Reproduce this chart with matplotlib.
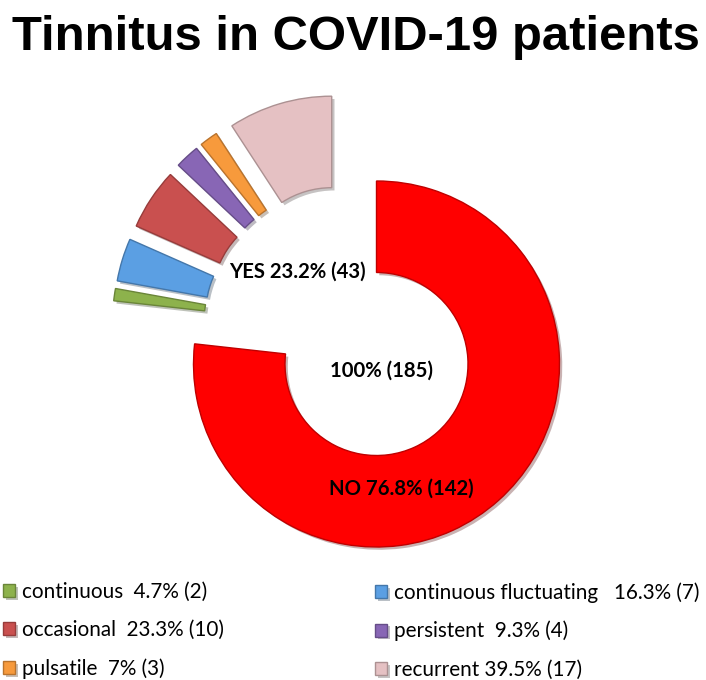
import matplotlib
matplotlib.use('Agg')
import matplotlib.pyplot as plt
from matplotlib import patheffects as pe
from matplotlib.colors import to_rgb

# ---- data ----
categories = ['NO', 'continuous', 'continuous fluctuating', 'occasional',
              'persistent', 'pulsatile', 'recurrent']
counts = [142, 2, 7, 10, 4, 3, 17]
colors = ['#FF0000', '#8DB24C', '#5B9FE3', '#C9504F', '#8866B5', '#F79A3C', '#E5C1C3']
legend_labels = ['continuous  4.7% (2)', 'continuous fluctuating   16.3% (7)',
                 'occasional  23.3% (10)', 'persistent  9.3% (4)',
                 'pulsatile  7% (3)', 'recurrent 39.5% (17)']
yes_label = 'YES 23.2% (43)'
no_label = 'NO 76.8% (142)'
total_label = '100% (185)'
title = 'Tinnitus in COVID-19 patients'

W, H = 706, 680
cx_px, cy_px, R_px = 376.5, 364.0, 183.0

fig = plt.figure(figsize=(W / 100, H / 100), dpi=100)
ax = fig.add_axes([0, 0, 1, 1])

explode = [0.0] + [0.28] * 6
wedges, _ = ax.pie(counts, explode=explode, colors=colors, startangle=90,
                   counterclock=False, radius=1.0,
                   wedgeprops=dict(width=0.5, linewidth=1.0))

def darker(c, f=0.75):
    r, g, b = to_rgb(c)
    return (r * f, g * f, b * f)

shift = (-0.165, 0.195)
for i, w in enumerate(wedges):
    w.set_edgecolor(darker(colors[i]))
    w.set_path_effects([pe.SimplePatchShadow(offset=(2, -2), alpha=0.3), pe.Normal()])
    if i > 0:
        c = w.center
        w.set_center((c[0] + shift[0], c[1] + shift[1]))

ax.set_xlim(-cx_px / R_px, (W - cx_px) / R_px)
ax.set_ylim(-(H - cy_px) / R_px, cy_px / R_px)
ax.set_aspect('auto')
ax.axis('off')

def to_data(px, py):
    return (px - cx_px) / R_px, (cy_px - py) / R_px

lab_font = dict(fontsize=14.6, fontweight='bold', family=['Lato', 'DejaVu Sans'],
                ha='center', va='center', color='black')
ax.text(*to_data(297, 272), yes_label, **lab_font)
ax.text(*to_data(381, 371), total_label, **lab_font)
ax.text(*to_data(401, 489), no_label, **lab_font)

fig.text(355.5 / W, 1 - 50 / H, title, ha='center', va='baseline',
         fontsize=35.3, fontweight='bold',
         family=['Liberation Sans', 'DejaVu Sans'])

# legend: two columns, row-wise order
leg_kw = dict(frameon=False, handlelength=0.6, handleheight=0.6,
              handletextpad=0.3, labelspacing=0.88, borderpad=0, borderaxespad=0,
              prop=dict(family='Lato', size=14.9), loc='upper left')
yes_w = wedges[1:]
left_idx = [0, 2, 4]
right_idx = [1, 3, 5]
fig.legend([yes_w[i] for i in left_idx], [legend_labels[i] for i in left_idx],
           bbox_to_anchor=(3 / W, 1 - 582 / H), **leg_kw)
fig.legend([yes_w[i] for i in right_idx], [legend_labels[i] for i in right_idx],
           bbox_to_anchor=(375 / W, 1 - 582 / H), **leg_kw)

fig.savefig('out.png', dpi=100)
